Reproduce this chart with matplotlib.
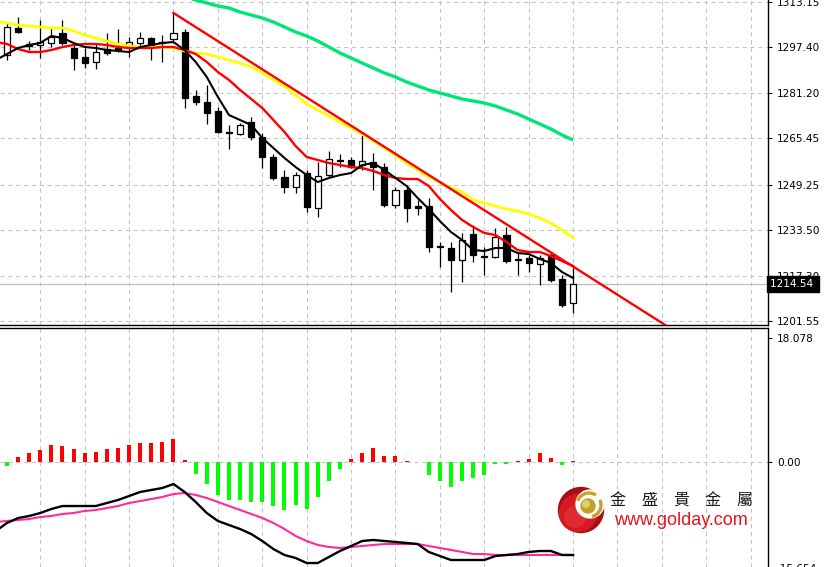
import numpy as np
import matplotlib
matplotlib.use("Agg")
import matplotlib.pyplot as plt
from matplotlib.patches import Circle, Arc
from matplotlib.transforms import blended_transform_factory

# ---------------- data ----------------
opens = [1294.60, 1304.05, 1298.45, 1298.10, 1298.80, 1302.30, 1297.05, 1293.90, 1292.15, 1296.70,
         1297.05, 1298.10, 1298.80, 1300.55, 1299.15, 1300.20, 1302.65, 1280.26, 1278.16, 1275.01,
         1267.67, 1266.97, 1271.16, 1265.92, 1258.92, 1251.93, 1248.43, 1253.32, 1241.08, 1252.62,
         1257.87, 1257.87, 1256.12, 1257.17, 1255.42, 1242.13, 1247.38, 1241.78, 1241.78, 1227.79,
         1227.09, 1222.89, 1231.99, 1224.29, 1223.94, 1231.64, 1223.24, 1223.59, 1221.49, 1224.64,
         1216.25, 1207.85]
highs = [1306.14, 1307.89, 1299.50, 1306.84, 1304.40, 1306.84, 1298.10, 1297.05, 1298.80, 1302.30,
         1303.70, 1300.90, 1302.65, 1300.90, 1301.60, 1309.29, 1303.70, 1282.36, 1284.11, 1276.41,
         1270.11, 1270.81, 1272.91, 1267.32, 1259.97, 1254.37, 1253.67, 1254.37, 1257.17, 1261.02,
         1259.97, 1258.92, 1266.62, 1260.32, 1256.82, 1248.43, 1249.13, 1243.88, 1244.58, 1229.19,
         1229.19, 1232.34, 1235.13, 1227.44, 1234.09, 1234.43, 1225.34, 1224.64, 1224.64, 1225.69,
         1217.64, 1220.09]
lows = [1292.85, 1302.30, 1296.35, 1293.55, 1297.40, 1298.10, 1289.35, 1290.05, 1289.70, 1294.60,
        1295.65, 1293.90, 1297.05, 1292.85, 1292.15, 1298.80, 1276.06, 1277.11, 1270.46, 1267.32,
        1261.72, 1266.62, 1264.87, 1255.07, 1250.88, 1246.33, 1246.33, 1239.68, 1237.93, 1251.93,
        1255.42, 1255.07, 1254.37, 1247.38, 1241.43, 1241.08, 1236.18, 1238.63, 1225.69, 1220.44,
        1211.70, 1215.20, 1222.19, 1217.64, 1223.59, 1221.84, 1217.64, 1218.69, 1214.15, 1215.20,
        1206.45, 1204.35]
closes = [1304.40, 1302.65, 1297.75, 1299.15, 1300.90, 1298.80, 1293.55, 1291.80, 1295.65, 1295.30,
          1296.35, 1299.15, 1300.55, 1298.10, 1298.80, 1302.30, 1279.56, 1278.16, 1274.31, 1267.67,
          1267.32, 1270.11, 1265.92, 1258.92, 1251.58, 1248.43, 1252.62, 1241.43, 1252.28, 1258.22,
          1257.52, 1255.42, 1257.52, 1255.42, 1242.13, 1247.38, 1241.08, 1241.08, 1227.44, 1227.44,
          1222.89, 1229.89, 1224.64, 1223.94, 1230.94, 1222.54, 1222.89, 1221.84, 1223.59, 1215.90,
          1207.15, 1214.54]

# moving averages, first value belongs to the bar just left of the view (index -1)
ma_black = [1292.85, 1294.95, 1297.05, 1298.10, 1298.80, 1301.25, 1300.55, 1298.80, 1297.40, 1297.05,
            1296.35, 1296.00, 1295.65, 1297.40, 1298.10, 1298.80, 1299.15, 1296.35, 1292.15, 1286.91,
            1279.91, 1273.61, 1271.86, 1270.11, 1265.57, 1262.07, 1258.57, 1255.42, 1252.62, 1250.18,
            1251.58, 1252.62, 1253.32, 1256.12, 1256.82, 1254.37, 1251.58, 1248.78, 1244.58, 1240.73,
            1236.53, 1232.69, 1229.89, 1226.39, 1226.04, 1227.09, 1227.09, 1225.34, 1224.99, 1223.24,
            1221.84, 1218.69, 1216.60]
ma_red = [1299.15, 1298.45, 1296.70, 1295.65, 1295.65, 1296.35, 1297.40, 1298.10, 1298.45, 1298.45,
          1298.10, 1297.40, 1297.05, 1297.05, 1297.05, 1297.40, 1297.40, 1296.35, 1294.95, 1292.15,
          1288.65, 1285.86, 1282.36, 1279.21, 1276.06, 1271.86, 1267.67, 1262.77, 1258.92, 1257.87,
          1256.82, 1256.12, 1255.42, 1255.07, 1254.02, 1252.62, 1251.58, 1251.23, 1251.23, 1248.78,
          1244.23, 1240.38, 1236.88, 1234.43, 1232.34, 1231.64, 1229.19, 1226.39, 1225.69, 1225.69,
          1224.29, 1222.54, 1220.79]
ma_yellow = [1306.49, 1305.79, 1305.09, 1304.75, 1304.40, 1304.05, 1304.05, 1303.00, 1301.60, 1300.55,
             1299.50, 1298.45, 1297.75, 1297.40, 1297.40, 1297.40, 1297.05, 1296.00, 1295.30, 1294.95,
             1293.90, 1292.85, 1291.80, 1290.40, 1288.30, 1285.86, 1283.76, 1280.61, 1277.46, 1275.36,
             1273.26, 1271.16, 1269.07, 1266.97, 1264.52, 1262.07, 1259.62, 1256.82, 1254.37, 1251.93,
             1250.18, 1248.08, 1246.68, 1243.88, 1242.83, 1241.78, 1240.73, 1240.03, 1238.98, 1237.58,
             1235.83, 1233.39, 1230.59]
ma_green = [np.nan] * 16 + [1316.29, 1314.89, 1313.84, 1312.79, 1311.74, 1311.04, 1309.64, 1308.59,
            1307.54, 1306.14, 1304.40, 1302.65, 1301.25, 1299.50, 1297.40, 1295.30, 1293.55, 1291.80,
            1290.05, 1288.30, 1286.91, 1285.16, 1283.76, 1282.36, 1281.31, 1280.26, 1279.21, 1278.51,
            1277.81, 1276.76, 1275.36, 1273.96, 1272.21, 1270.46, 1268.72, 1266.62, 1264.87]

trend_idx = [15, 51]
trend_price = [1309.29, 1220.60]

macd_hist = [-0.6, 0.7, 1.3, 1.7, 2.5, 2.4, 1.85, 1.3, 1.5, 1.85,
             2.1, 2.5, 2.8, 2.7, 2.9, 3.3, 0.3, -1.7, -3.2, -4.8,
             -5.6, -5.5, -5.9, -5.9, -6.4, -7.0, -6.2, -6.8, -5.05, -2.7,
             -1.0, 0.4, 1.36, 2.0, 0.9, 0.9, 0.2, 0.06, -1.95, -2.8,
             -3.6, -2.7, -2.4, -1.95, -0.35, -0.3, 0.2, 0.5, 1.3, 0.65,
             -0.5, 0.15]
macd_main = [-10.06, -8.89, -8.17, -7.87, -7.44, -6.85, -6.42, -6.42, -6.42, -6.42,
             -5.98, -5.54, -4.96, -4.37, -4.08, -3.79, -3.21, -4.37, -5.83, -7.44,
             -8.60, -9.19, -9.77, -10.50, -11.52, -12.69, -13.56, -14.00, -14.73, -14.73,
             -13.85, -12.98, -12.25, -11.52, -11.37, -11.52, -11.66, -11.81, -11.96, -13.12,
             -13.71, -14.29, -14.29, -14.29, -14.29, -13.71, -13.56, -13.42, -13.12, -12.98,
             -12.98, -13.56, -13.56]
macd_signal = [-8.75, -8.60, -8.46, -8.31, -8.02, -7.87, -7.58, -7.44, -7.14, -7.00,
               -6.71, -6.42, -5.98, -5.69, -5.40, -5.10, -4.67, -4.52, -4.81, -5.25,
               -5.83, -6.42, -7.00, -7.58, -8.17, -8.89, -9.77, -10.79, -11.52, -12.10,
               -12.39, -12.54, -12.39, -12.25, -12.10, -11.96, -11.96, -11.96, -11.96, -12.25,
               -12.54, -12.83, -13.12, -13.42, -13.42, -13.56, -13.56, -13.56, -13.56, -13.56,
               -13.56, -13.56, -13.56]

price_ticks = [1313.15, 1297.40, 1281.20, 1265.45, 1249.25, 1233.50, 1217.30, 1201.55]
price_tick_labels = ["1313.15", "1297.40", "1281.20", "1265.45", "1249.25", "1233.50", "1217.30", "1201.55"]
last_price = 1214.54
macd_ticks = [18.078, 0.0]
macd_tick_labels = ["18.078", "0.00"]
macd_min_label = -15.654
grid_bars = list(range(3, 69, 4))

logo_cn = "金盛貴金屬"
logo_url = "www.golday.com"

# ---------------- figure ----------------
W, H = 825, 567
fig = plt.figure(figsize=(W / 100, H / 100), dpi=100)
fig.patch.set_facecolor("white")

axw = 768 / W
ax = fig.add_axes([0, 1 - 325 / H, axw, 325 / H])
axm = fig.add_axes([0, 0, axw, (H - 328) / H])

XL = (-0.63, 68.56)
grid_kw = dict(color="#c4c4c4", lw=0.75, ls=(0, (4, 3.5)), zorder=0)
tick_font = dict(family="DejaVu Sans", size=7.6)

# ---- main price panel ----
ax.set_xlim(*XL)
ax.set_ylim(1200.16, 1313.84)
for g in grid_bars:
    ax.axvline(g, **grid_kw)
for p in price_ticks:
    ax.axhline(p, **grid_kw)
ax.axhline(last_price, color="#bdbdbd", lw=0.9, zorder=1)

o = np.array(opens); hh = np.array(highs); ll = np.array(lows); c = np.array(closes)
idx = np.arange(len(o))
up = c >= o
ax.vlines(idx, ll, hh, color="black", lw=0.9, zorder=2)
ax.bar(idx, np.maximum(np.abs(c - o), 0.25), bottom=np.minimum(o, c), width=0.55,
       color=np.where(up, "white", "black"), edgecolor="black", linewidth=0.9, zorder=3)

ma_x = np.arange(-1, len(o))
ax.plot(ma_x, ma_green, color="#00e676", lw=2.4, zorder=4, solid_capstyle="butt")
ax.plot(ma_x, ma_yellow, color="#ffff00", lw=2.0, zorder=4)
ax.plot(ma_x, ma_red, color="#ff0000", lw=1.7, zorder=5)
ax.plot(ma_x, ma_black, color="black", lw=1.5, zorder=6)

slope = (trend_price[1] - trend_price[0]) / (trend_idx[1] - trend_idx[0])
tx = np.array([trend_idx[0], 64])
ax.plot(tx, trend_price[0] + slope * (tx - trend_idx[0]), color="#ff0000", lw=1.7, zorder=7)

ax.yaxis.tick_right()
ax.set_yticks(price_ticks)
ax.set_yticklabels(price_tick_labels, **tick_font)
ax.tick_params(axis="y", length=3, width=0.8, pad=3.5, colors="black")
ax.set_xticks([])
for s in ["left", "top"]:
    ax.spines[s].set_visible(False)
for s in ["right", "bottom"]:
    ax.spines[s].set_color("black")
    ax.spines[s].set_linewidth(1.0)

tr = blended_transform_factory(ax.transAxes, ax.transData)
ax.text(770 / 768, last_price, "1214.54 ", transform=tr, color="white", va="center", ha="left",
        fontsize=7.6, family="DejaVu Sans", zorder=20, clip_on=False,
        bbox=dict(boxstyle="square,pad=0.25", facecolor="black", edgecolor="black"))

# ---- MACD panel ----
axm.set_xlim(*XL)
axm.set_ylim((462 - 567) / 6.858, (462 - 328) / 6.858)
for g in grid_bars:
    axm.axvline(g, **grid_kw)
axm.axhline(0, **grid_kw)
hist = np.array(macd_hist)
axm.bar(idx, hist, width=0.36, color=np.where(hist > 0, "#ff0000", "#00ff00"), zorder=3)
axm.plot(ma_x, macd_signal, color="#ff2a9d", lw=1.5, zorder=4)
axm.plot(ma_x, macd_main, color="black", lw=1.7, zorder=5)

axm.yaxis.tick_right()
axm.set_yticks(macd_ticks)
axm.set_yticklabels(macd_tick_labels, **tick_font)
axm.tick_params(axis="y", length=3, width=0.8, pad=3.5, colors="black")
axm.set_xticks([])
for s in ["left", "bottom"]:
    axm.spines[s].set_visible(False)
for s in ["right", "top"]:
    axm.spines[s].set_color("black")
    axm.spines[s].set_linewidth(1.0)
trm = blended_transform_factory(axm.transAxes, axm.transData)
axm.text(1.0 + 8 / 768, macd_min_label, "-15.654", transform=trm, va="center", ha="left",
         clip_on=False, **tick_font)

# ---- logo overlay ----
axl = fig.add_axes([0, 0, 1, 1], zorder=10)
axl.set_xlim(0, W)
axl.set_ylim(H, 0)
axl.axis("off")
axl.patch.set_alpha(0)
axl.add_patch(Circle((581, 510), 22.5, color="#a60d16", zorder=1))
axl.add_patch(Circle((578, 513), 18.5, color="#d41a22", zorder=2))
axl.add_patch(Circle((575, 517), 10, color="#e4383a", zorder=2, alpha=0.6))
axl.add_patch(Circle((590, 504), 14, color="white", zorder=3))
axl.add_patch(Arc((589, 505), 24, 24, theta1=200, theta2=305, color="#c9a02a", lw=2.4, zorder=4))
axl.add_patch(Arc((589, 505), 24, 24, theta1=335, theta2=75, color="#c9a02a", lw=2.4, zorder=4))
axl.add_patch(Circle((588, 506), 7, color="#c4a126", zorder=5))
axl.add_patch(Circle((586, 504), 3.2, color="#e6cf6e", zorder=6))

xs = np.linspace(617.5, 744.5, len(logo_cn))
for ch, xc in zip(logo_cn, xs):
    axl.text(xc, 500, ch, ha="center", va="center", fontsize=11.5, color="#1a1a1a",
             family=["Noto Sans CJK TC", "DejaVu Sans"], zorder=7)
axl.text(681, 525, logo_url, ha="center", va="baseline", fontsize=13, color="#e3141f",
         family="Liberation Sans", zorder=7)

fig.savefig("out.png", dpi=100, facecolor="white")
